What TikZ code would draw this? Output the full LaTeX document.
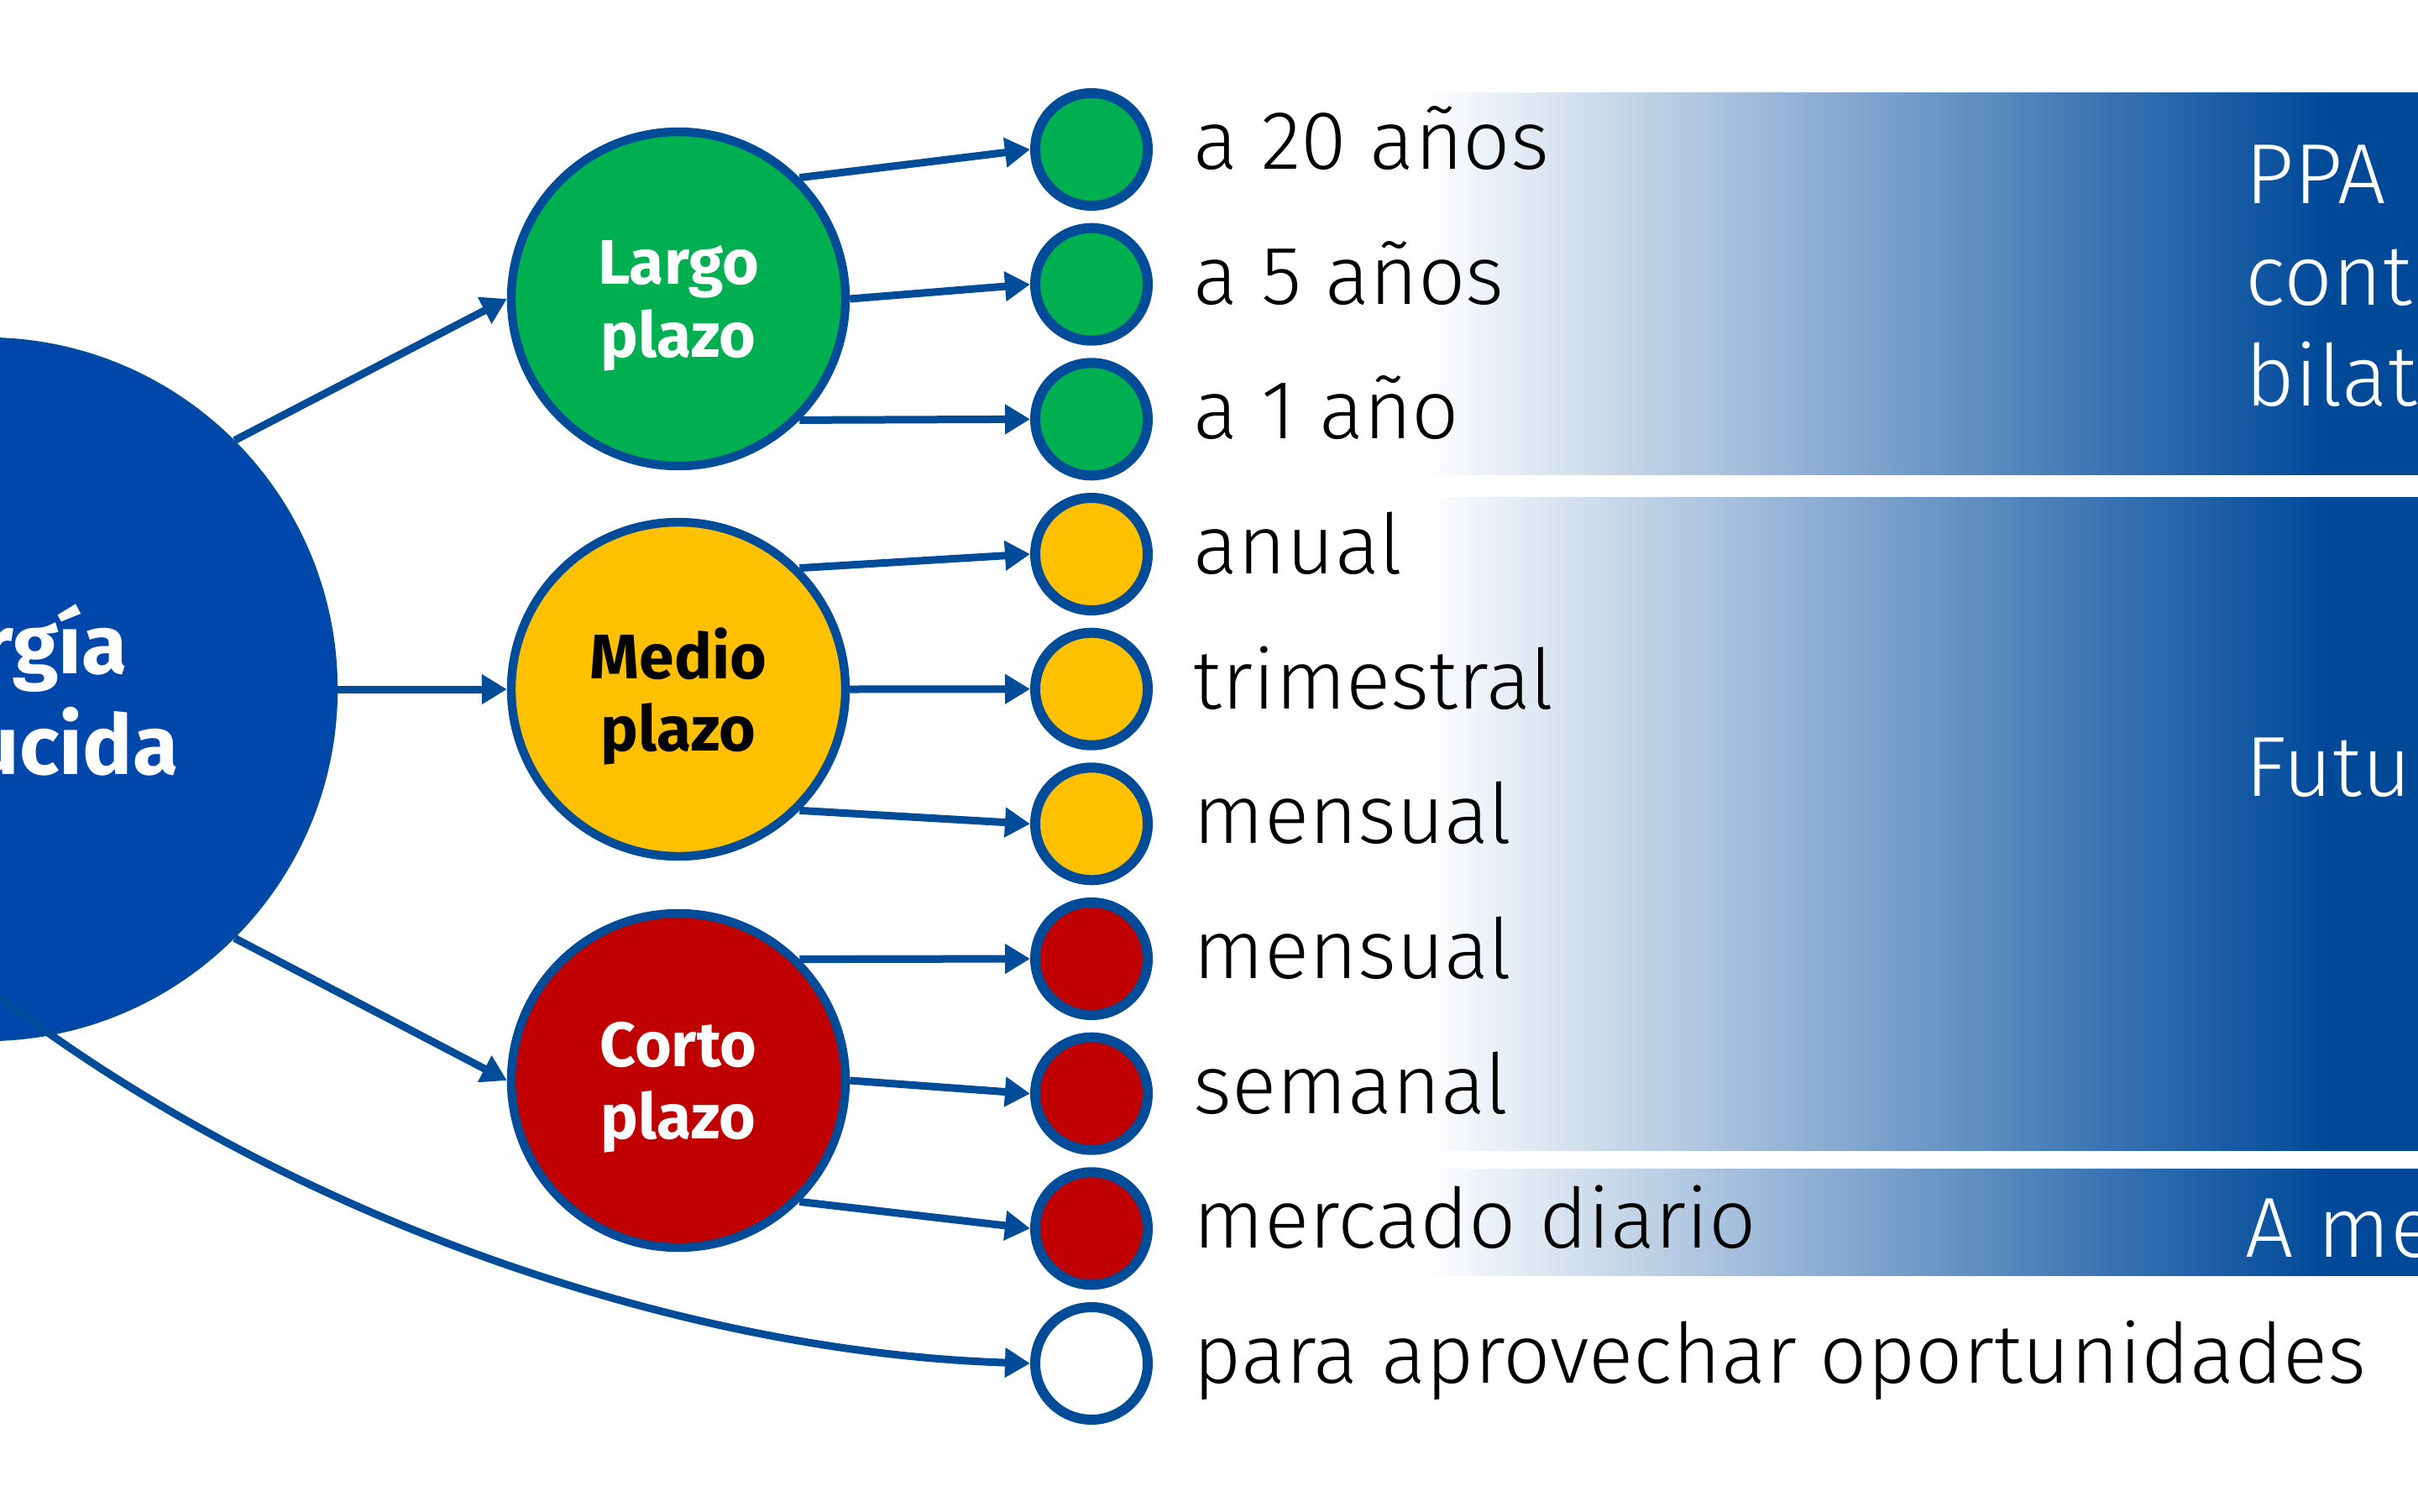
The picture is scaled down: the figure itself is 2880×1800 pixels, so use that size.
\documentclass[tikz,border=0pt]{standalone}
\usepackage{fontspec}
\setmainfont{Fira Sans}
\newfontfamily\lightfont{Fira Sans Light}
\usetikzlibrary{arrows.meta}
\definecolor{lineblue}{RGB}{0,76,153}
\definecolor{bandblue}{RGB}{0,73,153}
\definecolor{bandmid}{RGB}{60,117,180}
\definecolor{bigblue}{RGB}{0,71,171}
\definecolor{cgreen}{RGB}{0,176,80}
\definecolor{cyellow}{RGB}{255,192,0}
\definecolor{cred}{RGB}{192,0,0}
\begin{document}
\begin{tikzpicture}[x=0.25pt,y=-0.25pt,
  conn/.style={draw=lineblue, line width=2.25pt, -{Triangle[length=7.5pt,width=8.5pt]}},
  midc/.style={circle, draw=lineblue, line width=2.6pt, minimum size=99.5pt, inner sep=0pt,
    font=\bfseries\fontsize{18.75}{21.6}\selectfont, align=center, text depth=0pt},
  dotc/.style={circle, draw=lineblue, line width=3pt, minimum size=33.5pt, inner sep=0pt},
  lbl/.style={anchor=base west, inner sep=0pt, font=\lightfont\fontsize{24.75}{30}\selectfont},
  rlbl/.style={anchor=base west, inner sep=0pt, text=white, font=\lightfont\fontsize{25.4}{30}\selectfont},
  bandfill/.style={fill=bandblue}
]
\useasboundingbox (0,0) rectangle (2880,1800);
\clip (0,0) rectangle (2880,1800);
\fill[white] (0,0) rectangle (2880,1800);

% bands: gradient white -> mid blue -> blue, built from thin strips
\foreach \i in {0,...,75}{
  \pgfmathsetmacro\xa{1695+\i*10.592}
  \pgfmathsetmacro\xb{\xa+11.6}
  \pgfmathsetmacro\p{(\i+0.5)/0.76}
  \fill[bandmid!\p!white] (\xa,110) rectangle (\xb,566);
  \fill[bandmid!\p!white] (\xa,592) rectangle (\xb,1371);
  \fill[bandmid!\p!white] (\xa,1392) rectangle (\xb,1520);
}
\foreach \i in {0,...,25}{
  \pgfmathsetmacro\xa{2500+\i*10.385}
  \pgfmathsetmacro\xb{\xa+11.4}
  \pgfmathsetmacro\p{(\i+0.5)/0.26}
  \fill[bandblue!\p!bandmid] (\xa,110) rectangle (\xb,566);
  \fill[bandblue!\p!bandmid] (\xa,592) rectangle (\xb,1371);
  \fill[bandblue!\p!bandmid] (\xa,1392) rectangle (\xb,1520);
}
\fill[bandfill] (2769,110) rectangle (2880,566);
\fill[bandfill] (2769,592) rectangle (2880,1371);
\fill[bandfill] (2769,1392) rectangle (2880,1520);

% big circle
\node[circle, fill=bigblue, draw=lineblue, line width=0.6pt, minimum size=209pt, inner sep=0pt,
  text=white, align=center, text depth=0pt, font=\bfseries\fontsize{24.75}{30}\selectfont] (big) at (-17,821) {Energía\\producida};

% medium circles
\node[midc, fill=cgreen, text=white] (L) at (808,356) {Largo\\plazo};
\node[midc, fill=cyellow, text=black] (M) at (808,821) {Medio\\plazo};
\node[midc, fill=cred, text=white] (C) at (808,1287) {Corto\\plazo};

% small circles
\node[dotc, fill=cgreen] (s1) at (1300,178) {};
\node[dotc, fill=cgreen] (s2) at (1300,338.7) {};
\node[dotc, fill=cgreen] (s3) at (1300,499.3) {};
\node[dotc, fill=cyellow] (s4) at (1300,660) {};
\node[dotc, fill=cyellow] (s5) at (1300,820.7) {};
\node[dotc, fill=cyellow] (s6) at (1300,981.3) {};
\node[dotc, fill=cred] (s7) at (1300,1142) {};
\node[dotc, fill=cred] (s8) at (1300,1302.7) {};
\node[dotc, fill=cred] (s9) at (1300,1463.3) {};
\node[dotc, fill=white] (s10) at (1300,1624) {};

% labels
\node[lbl] (t1) at (1421,201) {a 20 años};
\node[lbl] (t2) at (1421,362) {a 5 años};
\node[lbl] (t3) at (1421,522) {a 1 año};
\node[lbl] (t4) at (1421,683) {anual};
\node[lbl] (t5) at (1421,844) {trimestral};
\node[lbl] (t6) at (1421,1004) {mensual};
\node[lbl] (t7) at (1421,1165) {mensual};
\node[lbl] (t8) at (1421,1326) {semanal};
\node[lbl] (t9) at (1421,1486) {mercado diario};
\node[lbl] (t10) at (1421,1647) {para aprovechar oportunidades};

% right labels
\node[rlbl] (r1) at (2674,242) {PPA};
\node[rlbl] (r2) at (2674,363) {contratos};
\node[rlbl] (r3) at (2674,483) {bilaterales};
\node[rlbl] (r4) at (2674,948) {Futuros};
\node[rlbl] (r5) at (2674,1497) {A mercado};

% connectors from big circle
\draw[conn] (big.45) -- (L.west);
\draw[conn] (big.east) -- (M.west);
\draw[conn] (big.-45) -- (C.west);
\coordinate (cs) at (-100,1105);
\draw[conn] (cs) .. controls (250,1420) and (780,1610) .. (s10.west);

% connectors to small circles
\draw[conn] (L.45) -- (s1.west);
\draw[conn] (L.east) -- (s2.west);
\draw[conn] (L.-45) -- (s3.west);
\draw[conn] (M.45) -- (s4.west);
\draw[conn] (M.east) -- (s5.west);
\draw[conn] (M.-45) -- (s6.west);
\draw[conn] (C.45) -- (s7.west);
\draw[conn] (C.east) -- (s8.west);
\draw[conn] (C.-45) -- (s9.west);
\end{tikzpicture}
\end{document}
